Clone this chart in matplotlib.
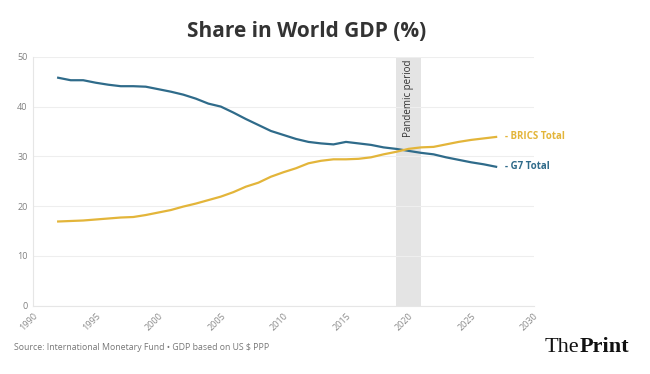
import matplotlib

matplotlib.use("Agg")
import matplotlib.pyplot as plt

# Share in world GDP (%)
years = list(range(1992, 2028))
g7_total = [45.8, 45.3, 45.3, 44.8, 44.4, 44.1, 44.1, 44.0, 43.5, 43.0,
            42.4, 41.6, 40.6, 40.0, 38.8, 37.5, 36.3, 35.1, 34.3, 33.5,
            32.9, 32.6, 32.4, 32.9, 32.6, 32.3, 31.8, 31.5, 31.1, 30.7,
            30.4, 29.8, 29.3, 28.8, 28.4, 27.9]
brics_total = [16.9, 17.0, 17.1, 17.3, 17.5, 17.7, 17.8, 18.2, 18.7, 19.2,
               19.9, 20.5, 21.2, 21.9, 22.8, 23.9, 24.7, 25.9, 26.8, 27.6,
               28.6, 29.1, 29.4, 29.4, 29.5, 29.8, 30.4, 30.9, 31.5, 31.8,
               31.9, 32.4, 32.9, 33.3, 33.6, 33.9]
pandemic = (2019, 2021)
x_ticks = list(range(1990, 2031, 5))
y_ticks = [0, 10, 20, 30, 40, 50]

G7_COL = "#2f6b8a"
BRICS_COL = "#e3b53a"
SANS = ["Open Sans", "DejaVu Sans"]
SERIF = ["Liberation Serif", "DejaVu Serif"]

fig = plt.figure(figsize=(6.5, 3.74), dpi=100)
ax = fig.add_axes([0.051, 0.183, 0.770, 0.665])

ax.axvspan(pandemic[0], pandemic[1], color="#e4e4e4", zorder=0, lw=0)
ax.text(sum(pandemic) / 2, 49.4, "Pandemic period", rotation=90, ha="center",
        va="top", fontsize=7, color="#333333", family=SANS)

ax.plot(years, g7_total, color=G7_COL, lw=1.6, zorder=3)
ax.plot(years, brics_total, color=BRICS_COL, lw=1.6, zorder=3)

ax.text(years[-1] + 0.7, brics_total[-1], "- BRICS Total", color=BRICS_COL,
        fontsize=7, fontweight="bold", va="center", ha="left", family=SANS)
ax.text(years[-1] + 0.7, g7_total[-1], "- G7 Total", color=G7_COL,
        fontsize=7, fontweight="bold", va="center", ha="left", family=SANS)

ax.set_xlim(1990, 2030)
ax.set_ylim(0, 50)
ax.set_xticks(x_ticks)
ax.set_yticks(y_ticks)
ax.set_xticklabels([str(t) for t in x_ticks], rotation=45, ha="right",
                   rotation_mode="anchor", fontsize=6.5, color="#8a8a8a", family=SANS)
ax.set_yticklabels([str(t) for t in y_ticks], fontsize=6.5, color="#808080", family=SANS)
ax.tick_params(length=0, pad=4)
ax.grid(axis="y", color="#eeeeee", lw=0.8)
ax.set_axisbelow(True)
for s in ["top", "right"]:
    ax.spines[s].set_visible(False)
for s in ["left", "bottom"]:
    ax.spines[s].set_color("#e6e6e6")
    ax.spines[s].set_linewidth(0.8)

fig.text(0.472, 0.915, "Share in World GDP (%)", ha="center", va="center",
         fontsize=15, fontweight="bold", color="#333333", family=SANS)
fig.text(0.021, 0.072, "Source: International Monetary Fund \u2022 GDP based on US $ PPP",
         ha="left", va="center", fontsize=6.3, color="#777777", family=SANS)

# brand mark: "The" regular + "Print" bold, set flush against each other
the_txt = fig.text(0.838, 0.072, "The", ha="left", va="center", fontsize=16,
                   family=SERIF, color="#111111")
fig.canvas.draw()
bb = the_txt.get_window_extent().transformed(fig.transFigure.inverted())
fig.text(bb.x1, 0.072, "Print", ha="left", va="center", fontsize=16,
         fontweight="bold", family=SERIF, color="#111111")

fig.savefig("out.png", dpi=100, facecolor="white")
